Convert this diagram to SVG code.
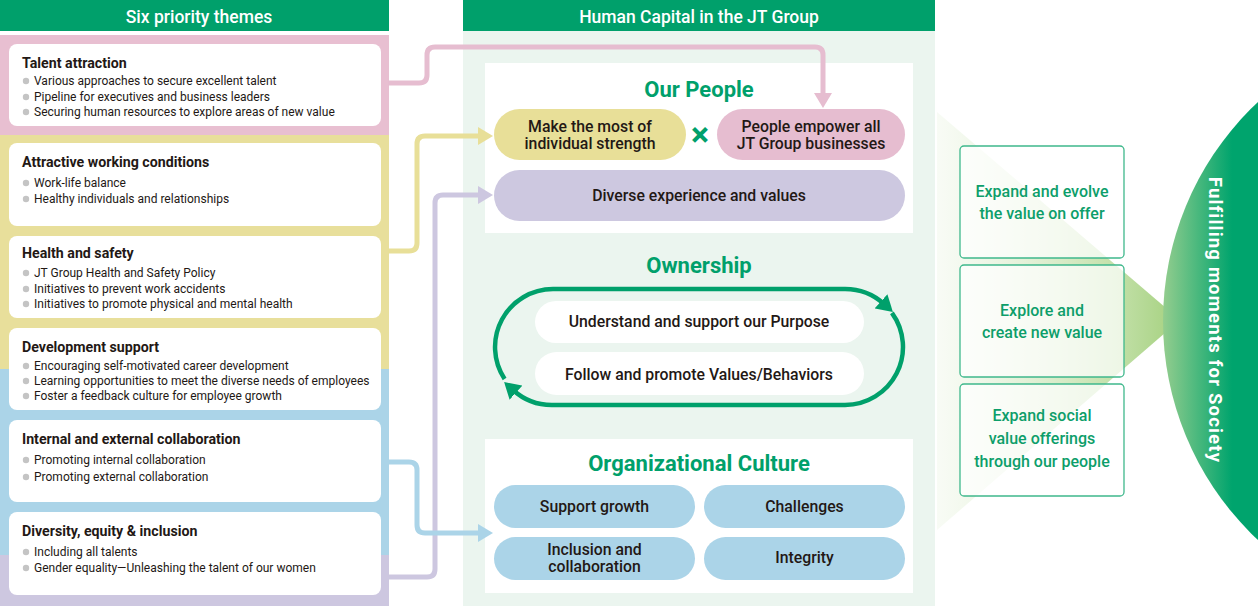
<svg xmlns="http://www.w3.org/2000/svg" width="1258" height="606" viewBox="0 0 1258 606">
<defs>
<style>
text{font-family:Roboto,"Liberation Sans",sans-serif;}
.hdr{fill:#fff;font-size:17.5px;font-weight:500;text-anchor:middle;}
.ttl{fill:#231815;font-size:14.2px;font-weight:700;}
.bl{fill:#231815;font-size:12px;}
.dot{fill:#c4c4c4;}
.card{fill:#fff;}
.sec{fill:#00a06b;font-size:22px;font-weight:700;text-anchor:middle;}
.pt{fill:#231815;font-size:15.8px;font-weight:500;text-anchor:middle;}
.rb{fill:#fff;fill-opacity:0.72;stroke:#3fb88c;stroke-width:1.3;}
.rt{fill:#0d9e6a;font-size:16px;font-weight:500;text-anchor:middle;}
.con{fill:none;stroke-width:5;stroke-linejoin:round;}
.loop{fill:none;stroke:#00a06b;stroke-width:4.5;}
</style>
<marker id="ahP" markerUnits="userSpaceOnUse" markerWidth="16" markerHeight="20" refX="0" refY="10" orient="auto" viewBox="0 0 16 20"><path d="M0,1 L15,10 L0,19 z" fill="#e6bdd0"/></marker>
<marker id="ahY" markerUnits="userSpaceOnUse" markerWidth="16" markerHeight="20" refX="0" refY="10" orient="auto" viewBox="0 0 16 20"><path d="M0,1 L15,10 L0,19 z" fill="#e8df98"/></marker>
<marker id="ahV" markerUnits="userSpaceOnUse" markerWidth="16" markerHeight="20" refX="0" refY="10" orient="auto" viewBox="0 0 16 20"><path d="M0,1 L15,10 L0,19 z" fill="#cdc7e0"/></marker>
<marker id="ahB" markerUnits="userSpaceOnUse" markerWidth="16" markerHeight="20" refX="0" refY="10" orient="auto" viewBox="0 0 16 20"><path d="M0,1 L15,10 L0,19 z" fill="#abd4e8"/></marker>
<marker id="ahG" markerUnits="userSpaceOnUse" markerWidth="17" markerHeight="19" refX="4" refY="9.5" orient="auto" viewBox="0 0 17 19"><path d="M0,0 L16,9.5 L0,19 z" fill="#00a06b"/></marker>
<linearGradient id="tri" gradientUnits="userSpaceOnUse" x1="937" y1="0" x2="1180" y2="0">
<stop offset="0" stop-color="#eef6e6" stop-opacity="0.4"/>
<stop offset="1" stop-color="#a3d07c"/>
</linearGradient>
<linearGradient id="circ" gradientUnits="userSpaceOnUse" x1="1163" y1="0" x2="1232" y2="0">
<stop offset="0" stop-color="#94cd8e"/>
<stop offset="1" stop-color="#00a46d"/>
</linearGradient>
</defs>

<!-- Left panel -->
<g id="left-panel">
<rect x="0" y="0" width="389" height="31" fill="#00a06b"/>
<text class="hdr" x="199" y="23">Six priority themes</text>
<rect x="0" y="35" width="389" height="100" fill="#e8bfd1"/>
<rect x="0" y="135" width="389" height="234" fill="#e8df9b"/>
<rect x="0" y="369" width="389" height="186" fill="#abd4e8"/>
<rect x="0" y="555" width="389" height="51" fill="#cdc7e0"/>
</g>

<g id="theme-talent">
<rect class="card" x="9" y="44" width="372" height="82" rx="8"/>
<text class="ttl" x="22" y="68">Talent attraction</text>
<circle class="dot" cx="26" cy="81" r="3.2"/><text class="bl" x="34" y="85">Various approaches to secure excellent talent</text>
<circle class="dot" cx="26" cy="97" r="3.2"/><text class="bl" x="34" y="101">Pipeline for executives and business leaders</text>
<circle class="dot" cx="26" cy="112" r="3.2"/><text class="bl" x="34" y="116">Securing human resources to explore areas of new value</text>
</g>
<g id="theme-working">
<rect class="card" x="9" y="143" width="372" height="83" rx="8"/>
<text class="ttl" x="22" y="167">Attractive working conditions</text>
<circle class="dot" cx="26" cy="183" r="3.2"/><text class="bl" x="34" y="187">Work-life balance</text>
<circle class="dot" cx="26" cy="199" r="3.2"/><text class="bl" x="34" y="203">Healthy individuals and relationships</text>
</g>
<g id="theme-health">
<rect class="card" x="9" y="236" width="372" height="82" rx="8"/>
<text class="ttl" x="22" y="258">Health and safety</text>
<circle class="dot" cx="26" cy="273" r="3.2"/><text class="bl" x="34" y="277">JT Group Health and Safety Policy</text>
<circle class="dot" cx="26" cy="289" r="3.2"/><text class="bl" x="34" y="293">Initiatives to prevent work accidents</text>
<circle class="dot" cx="26" cy="304" r="3.2"/><text class="bl" x="34" y="308">Initiatives to promote physical and mental health</text>
</g>
<g id="theme-development">
<rect class="card" x="9" y="328" width="372" height="82" rx="8"/>
<text class="ttl" x="22" y="352">Development support</text>
<circle class="dot" cx="26" cy="366" r="3.2"/><text class="bl" x="34" y="370">Encouraging self-motivated career development</text>
<circle class="dot" cx="26" cy="381" r="3.2"/><text class="bl" x="34" y="385">Learning opportunities to meet the diverse needs of employees</text>
<circle class="dot" cx="26" cy="396" r="3.2"/><text class="bl" x="34" y="400">Foster a feedback culture for employee growth</text>
</g>
<g id="theme-collaboration">
<rect class="card" x="9" y="420" width="372" height="82" rx="8"/>
<text class="ttl" x="22" y="444">Internal and external collaboration</text>
<circle class="dot" cx="26" cy="460" r="3.2"/><text class="bl" x="34" y="464">Promoting internal collaboration</text>
<circle class="dot" cx="26" cy="477" r="3.2"/><text class="bl" x="34" y="481">Promoting external collaboration</text>
</g>
<g id="theme-dei">
<rect class="card" x="9" y="512" width="372" height="83" rx="8"/>
<text class="ttl" x="22" y="536">Diversity, equity &amp; inclusion</text>
<circle class="dot" cx="26" cy="552" r="3.2"/><text class="bl" x="34" y="556">Including all talents</text>
<circle class="dot" cx="26" cy="568" r="3.2"/><text class="bl" x="34" y="572">Gender equality—Unleashing the talent of our women</text>
</g>

<!-- Middle panel -->
<g id="middle-panel">
<rect x="463" y="31" width="472" height="575" fill="#ebf5ef"/>
<rect x="463" y="0" width="472" height="31" fill="#00a06b"/>
<text class="hdr" x="699" y="23">Human Capital in the JT Group</text>
</g>

<g id="our-people">
<rect x="485" y="63" width="428" height="170" fill="#fff"/>
<text class="sec" x="699" y="97">Our People</text>
</g>
<g id="node-strength">
<rect x="494" y="109" width="192" height="51" rx="25.5" fill="#e8df98"/>
<text class="pt" x="590" y="132">Make the most of</text>
<text class="pt" x="590" y="149">individual strength</text>
</g>
<text x="700" y="146" font-size="34" font-weight="700" fill="#00a06b" text-anchor="middle">×</text>
<g id="node-empower">
<rect x="717" y="109" width="188" height="51" rx="25.5" fill="#e6bdd0"/>
<text class="pt" x="811" y="132">People empower all</text>
<text class="pt" x="811" y="149">JT Group businesses</text>
</g>
<g id="node-diverse">
<rect x="494" y="170" width="411" height="51" rx="25.5" fill="#cdc8e0"/>
<text class="pt" x="699" y="201">Diverse experience and values</text>
</g>

<g id="ownership">
<text class="sec" x="699" y="273">Ownership</text>
<path class="loop" d="M504.6,378.9 A58,58 0 0 1 553,289 L845,289 A58,58 0 0 1 884,304" marker-end="url(#ahG)"/>
<path class="loop" d="M891.9,312.9 A58,58 0 0 1 845,405 L553,405 A58,58 0 0 1 513,390" marker-end="url(#ahG)"/>
</g>
<g id="node-purpose">
<rect x="535" y="301" width="329" height="42" rx="21" fill="#fff"/>
<text class="pt" x="699" y="327">Understand and support our Purpose</text>
</g>
<g id="node-values">
<rect x="535" y="352" width="329" height="43" rx="21.5" fill="#fff"/>
<text class="pt" x="699" y="380">Follow and promote Values/Behaviors</text>
</g>

<g id="org-culture">
<rect x="485" y="439" width="428" height="154" fill="#fff"/>
<text class="sec" x="699" y="471">Organizational Culture</text>
</g>
<g id="node-growth">
<rect x="494" y="485" width="201" height="43" rx="21.5" fill="#abd4e8"/>
<text class="pt" x="594.5" y="512">Support growth</text>
</g>
<g id="node-challenges">
<rect x="704" y="485" width="201" height="43" rx="21.5" fill="#abd4e8"/>
<text class="pt" x="804.5" y="512">Challenges</text>
</g>
<g id="node-inclusion">
<rect x="494" y="537" width="201" height="43" rx="21.5" fill="#abd4e8"/>
<text class="pt" x="594.5" y="555">Inclusion and</text>
<text class="pt" x="594.5" y="572">collaboration</text>
</g>
<g id="node-integrity">
<rect x="704" y="537" width="201" height="43" rx="21.5" fill="#abd4e8"/>
<text class="pt" x="804.5" y="563">Integrity</text>
</g>

<!-- Connectors -->
<g id="connectors">
<path class="con" stroke="#e6bdd0" d="M388,83 H419 Q427,83 427,75 V55 Q427,47 435,47 H815 Q823,47 823,55 V93" marker-end="url(#ahP)"/>
<path class="con" stroke="#e8df98" d="M388,251 H409 Q417,251 417,243 V144 Q417,136 425,136 H478" marker-end="url(#ahY)"/>
<path class="con" stroke="#cdc7e0" d="M388,577 H427 Q435,577 435,569 V203 Q435,195 443,195 H478" marker-end="url(#ahV)"/>
<path class="con" stroke="#abd4e8" d="M388,462 H409 Q417,462 417,470 V525 Q417,533 425,533 H478" marker-end="url(#ahB)"/>
</g>

<!-- Right side -->
<g id="value-arrow">
<polygon points="937,112 1180,320 937,530" fill="url(#tri)"/>
</g>
<g id="node-society">
<circle cx="1463" cy="321" r="300" fill="url(#circ)"/>
<text x="0" y="0" transform="translate(1209,320) rotate(90)" fill="#fff" font-size="18.5" font-weight="700" letter-spacing="1.2" text-anchor="middle">Fulfilling moments for Society</text>
</g>
<g id="node-expand">
<rect class="rb" x="960" y="146" width="164" height="112" rx="4"/>
<text class="rt" x="1042" y="197">Expand and evolve</text>
<text class="rt" x="1042" y="219">the value on offer</text>
</g>
<g id="node-explore">
<rect class="rb" x="960" y="265" width="164" height="112" rx="4"/>
<text class="rt" x="1042" y="316">Explore and</text>
<text class="rt" x="1042" y="338">create new value</text>
</g>
<g id="node-social">
<rect class="rb" x="960" y="384" width="164" height="112" rx="4"/>
<text class="rt" x="1042" y="421">Expand social</text>
<text class="rt" x="1042" y="444">value offerings</text>
<text class="rt" x="1042" y="467">through our people</text>
</g>
</svg>
